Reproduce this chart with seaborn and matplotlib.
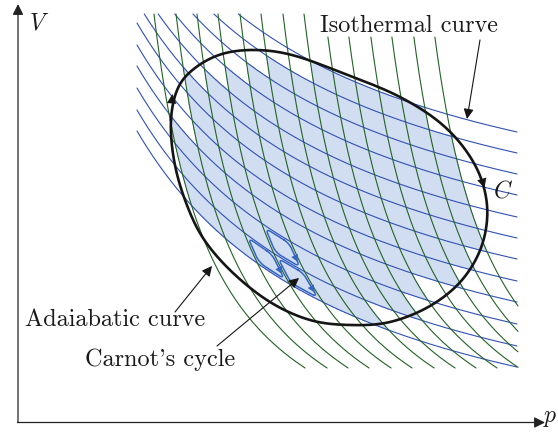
import numpy as np
import pandas as pd
import matplotlib
matplotlib.use("Agg")
import matplotlib.pyplot as plt
from matplotlib.path import Path
import seaborn as sns

# ---------------- data (pixel-like units) ----------------
# isotherms: V value of each curve at the right edge of the grid
iso_levels = [132, 153, 174, 195, 217, 238, 259, 281, 302, 324, 346, 367]
# adiabats: p value of each curve at the top edge of the grid, and where each starts
adi_levels = [154, 176, 197, 218, 240, 261, 283, 304, 325, 346, 368, 389, 411, 432]
adi_start = [14, 14, 14, 14, 14, 14, 14, 14, 37, 37, 37, 37, 37, 37]
# general cycle C (clockwise)
cycle_p = [171, 178, 195, 222, 255, 292, 340, 400, 445, 475, 487, 482, 462,
           430, 390, 350, 310, 270, 232, 203, 185, 174]
cycle_V = [120, 88, 68, 54, 50, 55, 72, 97, 127, 165, 205, 245, 280,
           306, 322, 325, 320, 302, 272, 238, 200, 160]
# elementary Carnot cycles (adiabat index, isotherm index)
carnot_cells = [(2, 10), (3, 9), (3, 10)]

# ---------------- geometry of the families ----------------
ISO_C, ISO_P0 = 80456.0, -80.0
P_LEFT, P_RIGHT, V_TOP, V_BOTTOM, P_MAX = 137.0, 517.0, 14.0, 368.0, 518.0
ADI_C, ADI_V0 = 28977.0, 506.0


def iso_shape(p):
    return ISO_C * (1.0 / (p - ISO_P0) - 1.0 / (P_RIGHT - ISO_P0))


def adi_shape(V):
    return ADI_C * (1.0 / (ADI_V0 - V) - 1.0 / (ADI_V0 - V_TOP))


BLUE = "#3152b5"
GREEN = "#236326"
SHADE = "#d1ddf1"
MINI = "#3565c4"

sns.set_theme(style="white")
plt.rcParams["mathtext.fontset"] = "cm"

fig = plt.figure(figsize=(5.58, 4.32), dpi=100)
ax = fig.add_axes([0, 0, 1, 1])
ax.set_xlim(0, 558)
ax.set_ylim(432, 0)
ax.axis("off")

# ---------------- isotherm and adiabat curves ----------------
rows = []
for k, L in enumerate(iso_levels):
    p_top = 1.0 / ((L - V_TOP) / ISO_C + 1.0 / (P_RIGHT - ISO_P0)) + ISO_P0
    p = np.linspace(max(P_LEFT, p_top), P_RIGHT, 300)
    V = L - iso_shape(p)
    rows.append(pd.DataFrame({"p": p, "V": V, "k": k}))
iso_df = pd.concat(rows, ignore_index=True)

rows = []
for k, (L, v0) in enumerate(zip(adi_levels, adi_start)):
    v_right = ADI_V0 - ADI_C / (P_MAX - L + ADI_C / (ADI_V0 - V_TOP))
    V = np.linspace(v0, min(V_BOTTOM, v_right), 300)
    p = L + adi_shape(V)
    rows.append(pd.DataFrame({"p": p, "V": V, "k": k}))
adi_df = pd.concat(rows, ignore_index=True)


# ---------------- shading: grid cells inside C ----------------
def catmull_closed(px, py, n=24):
    P = np.column_stack([px, py]).astype(float)
    N = len(P)
    out = []
    t = np.linspace(0, 1, n, endpoint=False)[:, None]
    for i in range(N):
        p0, p1, p2, p3 = P[i - 1], P[i], P[(i + 1) % N], P[(i + 2) % N]
        out.append(0.5 * (2 * p1 + (-p0 + p2) * t + (2 * p0 - 5 * p1 + 4 * p2 - p3) * t ** 2
                          + (-p0 + 3 * p1 - 3 * p2 + p3) * t ** 3))
    out = np.vstack(out)
    return np.vstack([out, out[:1]])


cyc = catmull_closed(cycle_p, cycle_V)
cyc_path = Path(cyc)

gx, gy = np.meshgrid(np.arange(120, 530, 0.7), np.arange(5, 380, 0.7))
Lt = gy + iso_shape(gx)
Ls = gx - adi_shape(gy)
ti = np.interp(Lt, iso_levels, np.arange(len(iso_levels)), left=np.nan, right=np.nan)
si = np.interp(Ls, adi_levels, np.arange(len(adi_levels)), left=np.nan, right=np.nan)
dom = (gx >= P_LEFT) & (gx <= P_RIGHT) & (gy >= V_TOP) & (gy <= V_BOTTOM) & ~np.isnan(ti) & ~np.isnan(si)
inside = cyc_path.contains_points(np.column_stack([gx.ravel(), gy.ravel()])).reshape(gx.shape)
cell = np.where(dom, np.floor(np.nan_to_num(si)) * 100 + np.floor(np.nan_to_num(ti)), -1).astype(int)
valid = cell >= 0
tot = np.bincount(cell[valid], minlength=2000)
ins = np.bincount(cell[valid], weights=inside[valid].astype(float), minlength=2000)
frac = np.divide(ins, tot, out=np.zeros_like(ins), where=tot > 0)
shade = np.zeros(gx.shape)
shade[valid] = (frac[cell[valid]] > 0.93).astype(float)
ax.contourf(gx, gy, shade, levels=[0.5, 1.5], colors=[SHADE], zorder=1)

sns.lineplot(data=iso_df, x="p", y="V", units="k", estimator=None, sort=False,
             color=BLUE, lw=0.8, legend=False, ax=ax, zorder=2)
sns.lineplot(data=adi_df, x="p", y="V", units="k", estimator=None, sort=False,
             color=GREEN, lw=0.8, legend=False, ax=ax, zorder=2)


# ---------------- elementary Carnot cycles ----------------
def st_to_pV(s, t):
    Ls_ = np.interp(s, np.arange(len(adi_levels)), adi_levels)
    Lt_ = np.interp(t, np.arange(len(iso_levels)), iso_levels)
    V = np.array(Lt_, dtype=float)
    for _ in range(80):
        p = Ls_ + adi_shape(V)
        V = Lt_ - iso_shape(p)
    return p, V


def rounded_loop(s0, t0, m=0.1, r=0.17, n=30):
    a, b = s0 + m, s0 + 1 - m
    c, d = t0 + m, t0 + 1 - m
    pts = []
    centers = [(b - r, c + r, -np.pi / 2, 0), (b - r, d - r, 0, np.pi / 2),
               (a + r, d - r, np.pi / 2, np.pi), (a + r, c + r, np.pi, 1.5 * np.pi)]
    for cx, cy, a0, a1 in centers:
        ang = np.linspace(a0, a1, n)
        pts.append(np.column_stack([cx + r * np.cos(ang), cy + r * np.sin(ang)]))
    pts = np.vstack(pts)
    return np.vstack([pts, pts[:1]])


for j, (s0, t0) in enumerate(carnot_cells):
    loop = rounded_loop(s0, t0)
    p, V = st_to_pV(loop[:, 0], loop[:, 1])
    sns.lineplot(x=p, y=V, sort=False, estimator=None, color=MINI, lw=1.1, ax=ax, zorder=3)
    pa, Va = st_to_pV(np.array([s0 + 0.9, s0 + 0.9]), np.array([t0 + 0.5, t0 + 0.74]))
    ax.annotate("", xy=(pa[1], Va[1]), xytext=(pa[0], Va[0]),
                arrowprops=dict(arrowstyle="-|>", color=MINI, lw=0.01,
                                mutation_scale=13, shrinkA=0, shrinkB=0), zorder=4)

# ---------------- cycle C ----------------
sns.lineplot(x=cyc[:, 0], y=cyc[:, 1], sort=False, estimator=None, color="#151515",
             lw=1.9, ax=ax, zorder=5)
arrow_kw = dict(arrowstyle="-|>", color="#151515", lw=0.01, mutation_scale=17,
                shrinkA=0, shrinkB=0)
ax.annotate("", xy=(172.5, 94), xytext=(171, 110), arrowprops=arrow_kw, zorder=6)
ax.annotate("", xy=(484.5, 188), xytext=(479, 170), arrowprops=arrow_kw, zorder=6)

# ---------------- axes with arrows ----------------
ax_kw = dict(arrowstyle="-|>", color="#222222", lw=0.9, mutation_scale=16,
             shrinkA=0, shrinkB=0)
ax.annotate("", xy=(18, 4), xytext=(18, 422.5), arrowprops=ax_kw)
ax.annotate("", xy=(545, 422.5), xytext=(17.5, 422.5), arrowprops=ax_kw)

# ---------------- labels ----------------
tk = dict(family=["cmr10", "DejaVu Serif"], fontsize=17.5, color="#1a1a1a")
ax.text(29, 30, "$V$", fontsize=17, color="#1a1a1a", va="baseline", ha="left")
ax.text(543, 422, "$p$", fontsize=17, color="#1a1a1a", va="baseline", ha="left")
ax.text(493, 197, "$C$", fontsize=17, color="#1a1a1a", va="baseline", ha="left")
ax.text(320, 32, "Isothermal curve", va="baseline", ha="left", **tk)
ax.text(25, 326, "Adaiabatic curve", va="baseline", ha="left", **tk)
ax.text(85, 366, "Carnot's cycle", va="baseline", ha="left", **tk)

lab_kw = dict(arrowstyle="-|>", color="#151515", lw=0.8, mutation_scale=15,
              shrinkA=0, shrinkB=0)
ax.annotate("", xy=(467, 119), xytext=(480, 40), arrowprops=lab_kw, zorder=6)
ax.annotate("", xy=(212, 266), xytext=(175, 312), arrowprops=lab_kw, zorder=6)
ax.annotate("", xy=(299, 278), xytext=(217, 346), arrowprops=lab_kw, zorder=6)

fig.savefig("out.png", dpi=100)
